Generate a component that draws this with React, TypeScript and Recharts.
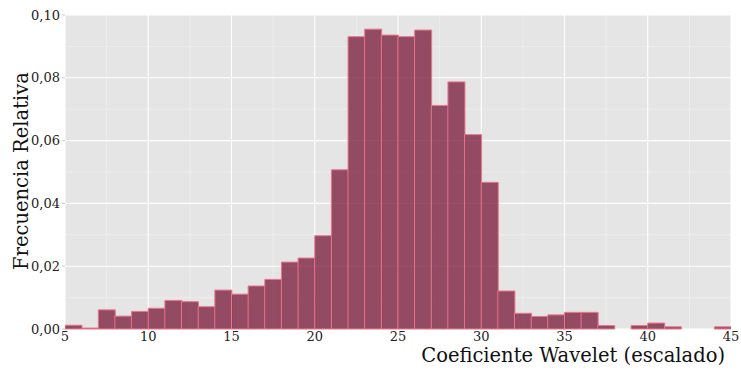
import React from "react";
import {
  ComposedChart,
  Bar,
  XAxis,
  YAxis,
  CartesianGrid,
} from "recharts";

// histogram bins (left edges), width 1
const binStarts = [
  5, 6, 7, 8, 9, 10, 11, 12, 13, 14, 15, 16, 17, 18, 19, 20, 21, 22, 23, 24,
  25, 26, 27, 28, 29, 30, 31, 32, 33, 34, 35, 36, 37, 38, 39, 40, 41, 42, 43, 44,
];
const freq = [
  0.0012, 0.0003, 0.0061, 0.0041, 0.0056, 0.0066, 0.0091, 0.0087, 0.0071, 0.0124,
  0.0111, 0.0137, 0.0158, 0.0213, 0.0226, 0.0297, 0.0507, 0.0931, 0.0955, 0.0936,
  0.0931, 0.0952, 0.0712, 0.0787, 0.0619, 0.0467, 0.0121, 0.005, 0.004, 0.0045,
  0.0053, 0.0053, 0.0011, 0, 0.0011, 0.0019, 0.0007, 0, 0, 0.0007,
];
const xTicks = [5, 10, 15, 20, 25, 30, 35, 40, 45];
const xMinor = [7.5, 12.5, 17.5, 22.5, 27.5, 32.5, 37.5, 42.5];
const yTicks = [0, 0.02, 0.04, 0.06, 0.08, 0.1];
const yMinor = [0.01, 0.03, 0.05, 0.07, 0.09];

const data = binStarts.map((b, i) => ({ mid: b + 0.5, freq: freq[i] }));

const FONT = "DejaVu Serif";
const fmt = (v: number) => v.toFixed(2).replace(".", ",");

const YTitle = () => (
  <text
    x={28}
    y={171}
    transform="rotate(-90 28 171)"
    textAnchor="middle"
    fontFamily={FONT}
    fontSize={19.5}
    fill="#111"
  >
    Frecuencia Relativa
  </text>
);

const XTitle = () => (
  <text x={725} y={362} textAnchor="end" fontFamily={FONT} fontSize={19.5} fill="#111">
    Coeficiente Wavelet (escalado)
  </text>
);

export default function App() {
  return (
    <div
      style={{ position: "absolute", left: 0, top: 0, background: "#fff", fontFamily: FONT }}
    >
      <ComposedChart
        width={741}
        height={370}
        data={data}
        margin={{ top: 15, right: 10, left: 0, bottom: 0 }}
        barCategoryGap={0}
        barGap={0}
      >
        <CartesianGrid
          fill="#e5e5e5"
          stroke="#f2f2f2"
          strokeWidth={0.6}
          horizontalValues={yMinor}
          verticalValues={xMinor}
        />
        <CartesianGrid
          stroke="#ffffff"
          strokeWidth={1.1}
          horizontalValues={yTicks}
          verticalValues={xTicks}
        />
        <XAxis
          dataKey="mid"
          type="number"
          domain={[5, 45]}
          ticks={xTicks}
          allowDataOverflow
          height={41}
          axisLine={false}
          tickLine={false}
          tickSize={1}
          tick={{ fontFamily: FONT, fontSize: 13, fill: "#222" }}
          label={{ content: () => <XTitle /> }}
        />
        <YAxis
          type="number"
          domain={[0, 0.1]}
          ticks={yTicks}
          width={65}
          axisLine={false}
          tickLine={{ stroke: "#c8c8c8" }}
          tickSize={3}
          tickFormatter={fmt}
          tick={{ fontFamily: FONT, fontSize: 13, fill: "#222" }}
          label={{ content: () => <YTitle /> }}
        />
        <Bar
          dataKey="freq"
          fill="#7e2443"
          fillOpacity={0.8}
          stroke="#e8778c"
          strokeWidth={1}
          isAnimationActive={false}
        />
      </ComposedChart>
    </div>
  );
}
